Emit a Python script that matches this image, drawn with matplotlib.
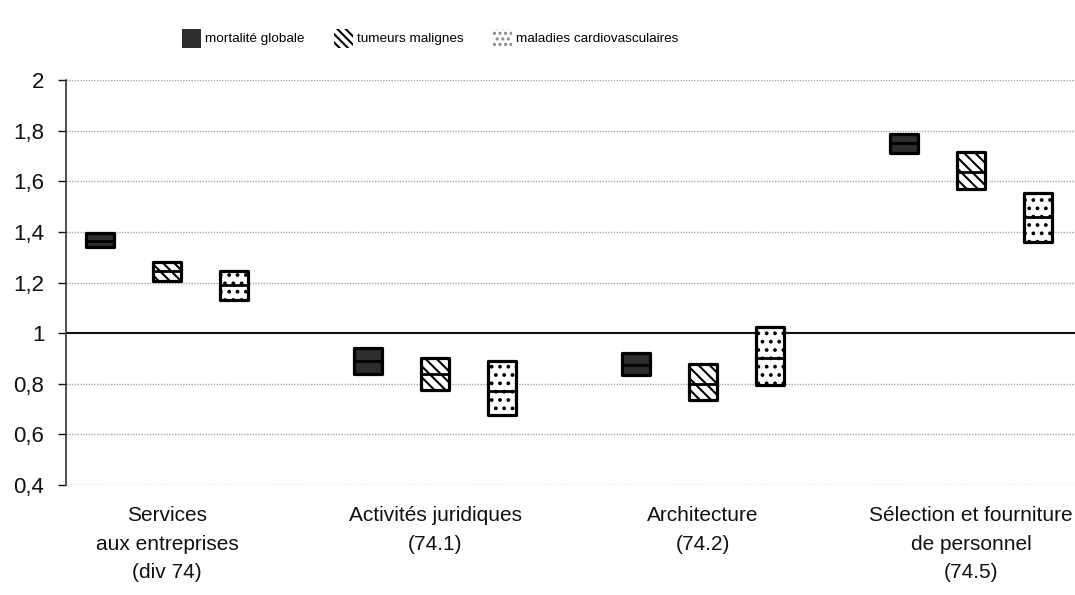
"""Intervalles de confiance par secteur : mortalité globale, tumeurs, maladies cardiovasculaires."""
import matplotlib
matplotlib.use("Agg")
import matplotlib.pyplot as plt
from matplotlib.patches import Rectangle, Patch
from matplotlib.ticker import FuncFormatter

plt.rcParams["font.family"] = ["Liberation Sans", "DejaVu Sans"]
plt.rcParams["hatch.linewidth"] = 1.5

# --- données ---
categories = ["Services\naux entreprises\n(div 74)",
              "Activités juridiques\n(74.1)",
              "Architecture\n(74.2)",
              "Sélection et fourniture\nde personnel\n(74.5)"]
series = ["mortalité globale", "tumeurs malignes", "maladies cardiovasculaires"]

mortalite_low = [1.34, 0.84, 0.835, 1.71]
mortalite_mid = [1.365, 0.89, 0.875, 1.75]
mortalite_high = [1.395, 0.94, 0.92, 1.785]

tumeurs_low = [1.205, 0.775, 0.735, 1.57]
tumeurs_mid = [1.245, 0.84, 0.80, 1.635]
tumeurs_high = [1.28, 0.90, 0.88, 1.715]

cardio_low = [1.13, 0.675, 0.795, 1.36]
cardio_mid = [1.19, 0.77, 0.90, 1.46]
cardio_high = [1.245, 0.89, 1.025, 1.555]

yticks = [0.4, 0.6, 0.8, 1.0, 1.2, 1.4, 1.6, 1.8, 2.0]

# --- style ---
face = ["#2d2d2d", "white", "white"]
hatch_box = [None, "\\\\\\", ".."]
hatch_leg = [None, "\\\\\\\\", "..."]
offsets = [-0.25, 0.0, 0.25]
box_w = 0.105

fig = plt.figure(figsize=(10.75, 5.95), dpi=100)
ax = fig.add_axes([66 / 1075, 110 / 595, 1 - 66 / 1075, 405 / 595])

data = [(mortalite_low, mortalite_mid, mortalite_high),
        (tumeurs_low, tumeurs_mid, tumeurs_high),
        (cardio_low, cardio_mid, cardio_high)]

for k, (lo, mid, hi) in enumerate(data):
    for i in range(len(categories)):
        x = i + offsets[k]
        ax.add_patch(Rectangle((x - box_w / 2, lo[i]), box_w, hi[i] - lo[i],
                               facecolor=face[k], hatch=hatch_box[k],
                               edgecolor="black", lw=2.3, joinstyle="round",
                               zorder=3))
        ax.plot([x - box_w / 2, x + box_w / 2], [mid[i], mid[i]],
                color="black", lw=2.0, zorder=4, solid_capstyle="butt")

ax.set_xlim(-0.377, 3.388)
ax.set_ylim(0.4, 2.0)
ax.set_yticks(yticks)
ax.yaxis.set_major_formatter(FuncFormatter(lambda v, p: f"{v:g}".replace(".", ",")))
ax.set_xticks(range(len(categories)))
ax.set_xticklabels(categories, fontsize=15, linespacing=1.65)
ax.tick_params(axis="x", length=0, pad=15, colors="#111111")
ax.tick_params(axis="y", length=6, width=1, direction="out", labelsize=16,
               colors="#111111", pad=9.5)

for v in yticks:
    if v == 1.0:
        ax.axhline(v, color="#111111", lw=1.5, zorder=2)
    else:
        ax.axhline(v, color="#a8a8a8", lw=1.0, ls=(0, (1, 1)), zorder=1)

for s in ["top", "right", "bottom"]:
    ax.spines[s].set_visible(False)
ax.spines["left"].set_color("#333333")
ax.spines["left"].set_linewidth(1.2)

handles = [Patch(facecolor=face[k], hatch=hatch_leg[k],
                 edgecolor="black" if k < 2 else "#888888", lw=0, label=name)
           for k, name in enumerate(series)]
fig.legend(handles=handles, loc="center", bbox_to_anchor=(0.40, 0.936),
           ncol=3, frameon=False, prop=dict(size=9.7),
           handlelength=1.4, handleheight=1.8, handletextpad=0.3,
           columnspacing=2.2)

fig.savefig("out.png", dpi=100)
